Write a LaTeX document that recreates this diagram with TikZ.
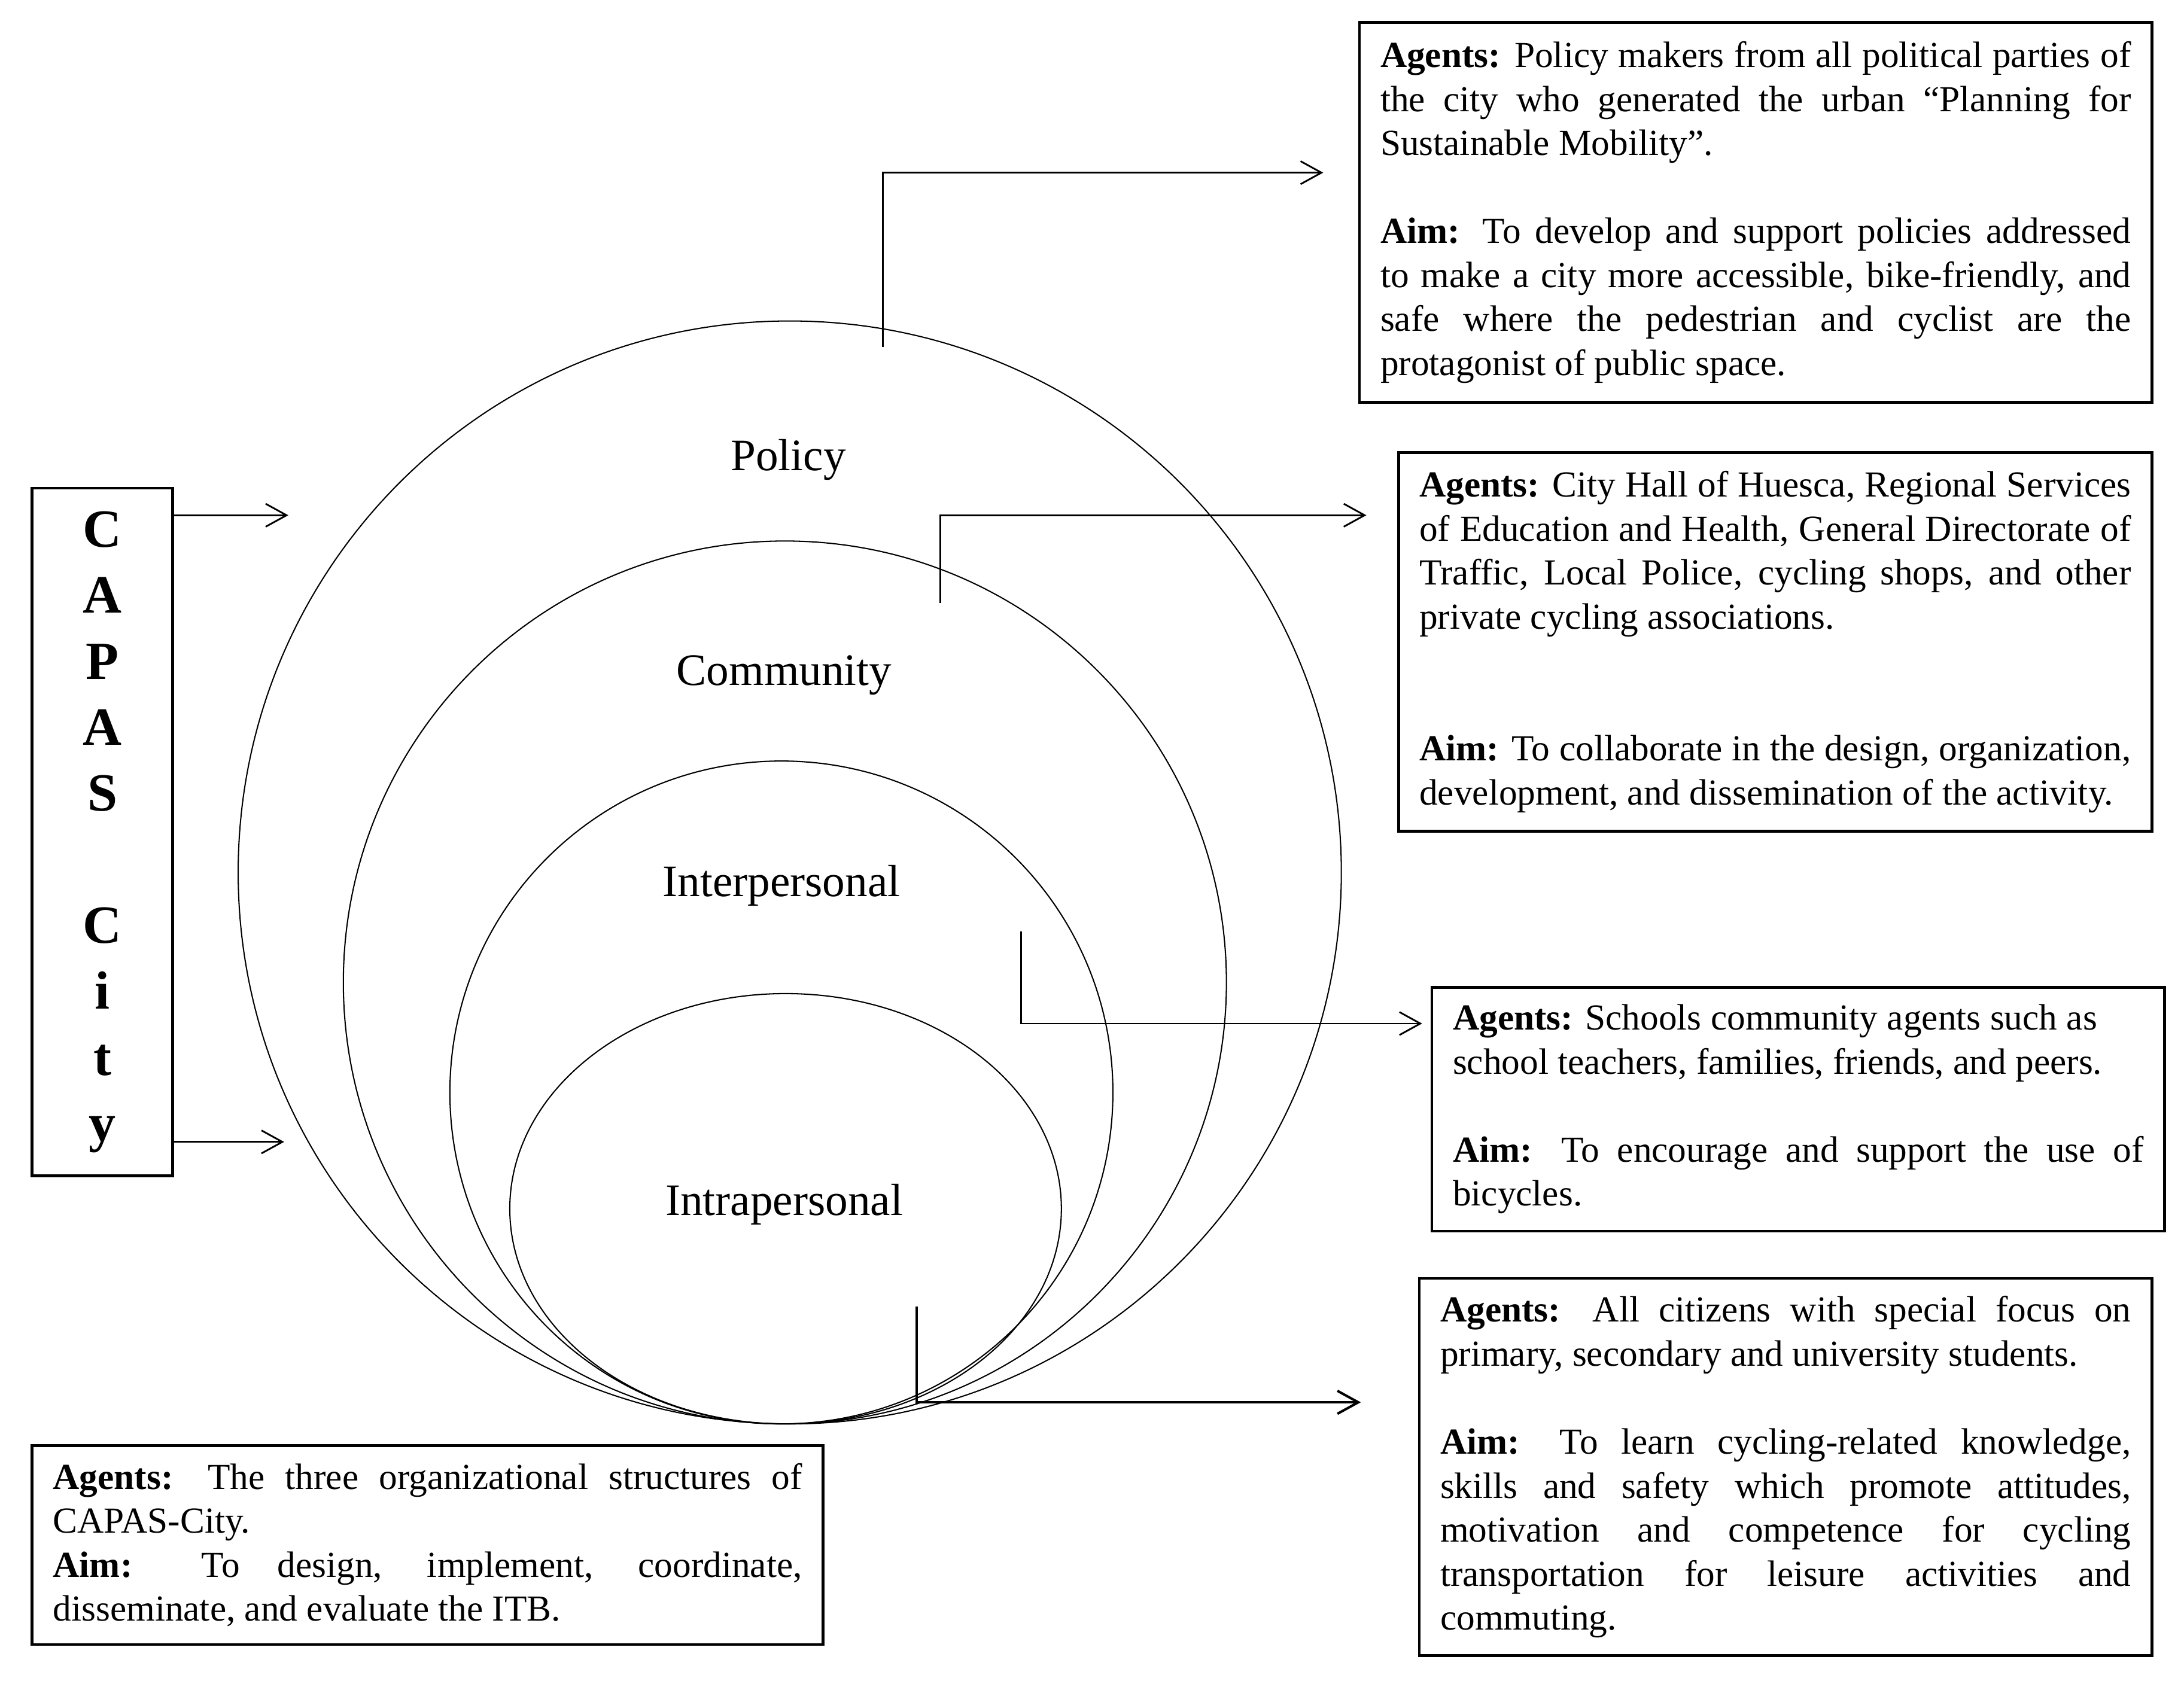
\documentclass[tikz,border=0pt]{standalone}
\usepackage{fontspec}
\setmainfont{Liberation Serif}
\usetikzlibrary{arrows.meta}

\begin{document}
\begin{tikzpicture}[x=0.02cm, y=-0.02cm,
    ring/.style={line width=0.5pt},
    layer/.style={font=\layerFont},
    infobox/.style={draw, line width=1.1pt, inner xsep=0.3cm, inner ysep=0pt, align=justify, font=\boxFont},
    conn/.style={line width=0.7pt, -{Straight Barb[length=3mm, width=3.3mm]}}]
    % Define fonts
    \def\boxFont{\fontsize{15}{17.98}\selectfont\hyphenpenalty=10000\exhyphenpenalty=10000\hbadness=10000}
    \def\layerFont{\fontsize{18.4}{22}\selectfont}
    \def\gap{17.98pt}

    % Fix the canvas
    \useasboundingbox (0,0) rectangle (1568,1209);

    % Draw the nested levels
    \draw[ring] (567,626.5) circle [radius=396];
    \draw[ring] (563.5,705.5) circle [radius=317];
    \draw[ring] (561,784.5) circle [radius=238];
    \draw[ring] (564,868) ellipse [x radius=198, y radius=154.5];

    % Label the levels
    \node[layer] (lpolicy) at (566,330) {Policy};
    \node[layer] (lcommunity) at (563,485) {Community};
    \node[layer] (linter) at (561,636) {Interpersonal};
    \node[layer] (lintra) at (563,865) {Intrapersonal};

    % CAPAS City box
    \node[draw, line width=1.1pt, minimum width=2.02cm, minimum height=9.88cm, inner sep=0pt,
          align=center, font=\fontsize{22}{26.97}\selectfont\bfseries] (capas) at (73.5,597.5)
          {C\\A\\P\\A\\S\\[26.97pt]C\\i\\t\\y};

    % Arrows from CAPAS City
    \coordinate (capasin1) at (207,370);
    \coordinate (capasin2) at (204,820);
    \draw[conn] (capas.east |- capasin1) -- (capasin1);
    \draw[conn] (capas.east |- capasin2) -- (capasin2);

    % Description boxes
    \node[infobox, text width=10.78cm, minimum height=5.46cm] (policybox) at (1260.5,152.5)
        {\textbf{Agents:} Policy makers from all political parties of\linebreak
         the city who generated the urban “Planning for\linebreak
         Sustainable Mobility”.\\[\gap]
         \textbf{Aim:} To develop and support policies addressed\linebreak
         to make a city more accessible, bike-friendly, and\linebreak
         safe where the pedestrian and cyclist are the\linebreak
         protagonist of public space.};
    \node[infobox, text width=10.22cm, minimum height=5.44cm] (communitybox) at (1274.5,461)
        {\textbf{Agents:} City Hall of Huesca, Regional Services\linebreak
         of Education and Health, General Directorate of\linebreak
         Traffic, Local Police, cycling shops, and other\linebreak
         private cycling associations.\\[35.96pt]
         \textbf{Aim:} To collaborate in the design, organization,\linebreak
         development, and dissemination of the activity.};
    \node[infobox, text width=9.92cm, minimum height=3.5cm] (interbox) at (1291,796.5)
        {\textbf{Agents:} Schools community agents such as\\
         school teachers, families, friends, and peers.\\[\gap]
         \textbf{Aim:} To encourage and support the use of\linebreak
         bicycles.};
    \node[infobox, text width=9.92cm, minimum height=5.42cm] (intrabox) at (1282,1053.5)
        {\textbf{Agents:} All citizens with special focus on\linebreak
         primary, secondary and university students.\\[\gap]
         \textbf{Aim:} To learn cycling-related knowledge,\linebreak
         skills and safety which promote attitudes,\linebreak
         motivation and competence for cycling\linebreak
         transportation for leisure activities and\linebreak
         commuting.};
    \node[infobox, text width=10.76cm, minimum height=2.86cm] (capasbox) at (307,1109.5)
        {\textbf{Agents:} The three organizational structures of\linebreak
         CAPAS-City.\\
         \textbf{Aim:} To design, implement, coordinate,\linebreak
         disseminate, and evaluate the ITB.};

    % Connectors from the levels to their boxes
    \coordinate (policyfoot) at (634,249);
    \coordinate (policytip) at (950,124);
    \coordinate (communityfoot) at (675,433);
    \coordinate (communitytip) at (981,370);
    \coordinate (interfoot) at (733,669);
    \coordinate (intertip) at (1021,735);
    \coordinate (intrafoot) at (658,938);
    \coordinate (intratip) at (977,1007);
    \draw[conn] (policyfoot) |- (policytip);
    \draw[conn] (communityfoot) |- (communitytip);
    \draw[conn] (interfoot) |- (intertip);
    \draw[conn, line width=1pt] (intrafoot) |- (intratip);

\end{tikzpicture}
\end{document}
